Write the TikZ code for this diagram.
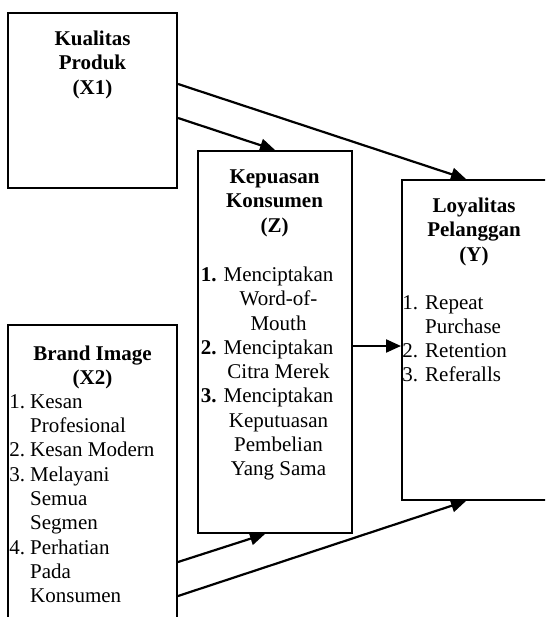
\documentclass[tikz,border=0pt]{standalone}
\usepackage{fontspec}
\setmainfont{Liberation Serif}
\usetikzlibrary{arrows.meta}
\tikzset{
  box/.style={draw=black, line width=2pt, rectangle, inner sep=0pt},
  conn/.style={line width=2.2pt, -{Triangle[length=15pt,width=13pt]}},
  txt/.style={inner sep=0pt, font=\fontsize{21}{24.3}\selectfont},
}
\begin{document}
\begin{tikzpicture}[x=1pt,y=-1pt]
\useasboundingbox (0,0) rectangle (545,617);
\clip (0,0) rectangle (545,617);
% boxes
\node[box, minimum width=169pt, minimum height=175pt] (X1) at (92.5,100.5) {};
\node[box, minimum width=154pt, minimum height=382pt] (Z) at (275,342) {};
\node[box, minimum width=150pt, minimum height=320pt] (Y) at (477,340) {};
\node[box, minimum width=169pt, minimum height=315pt] (X2) at (92.5,482.5) {};
% texts
\node[txt, anchor=north, align=center] (t1) at (92.5,30.7) {\textbf{Kualitas}\\\textbf{Produk}\\\textbf{(X1)}};
\node[txt, anchor=north, align=center] (tz) at (274.5,169.7) {\textbf{Kepuasan}\\\textbf{Konsumen}\\\textbf{(Z)}};
\node[txt, anchor=north, align=center] (lz) at (278.5,266.7) {\llap{\textbf{1.} }Menciptakan\\Word-of-\\Mouth\\\llap{\textbf{2.} }Menciptakan\\Citra Merek\\\llap{\textbf{3.} }Menciptakan\\Keputuasan\\Pembelian\\Yang Sama};
\node[txt, anchor=north, align=center] (ty) at (474,197.7) {\textbf{Loyalitas}\\\textbf{Pelanggan}\\\textbf{(Y)}};
\node[txt, anchor=north west, align=left] (ly) at (425,295) {\llap{1. }Repeat\\Purchase\\\llap{2. }Retention\\\llap{3. }Referalls};
\node[txt, anchor=north, align=center] (t2) at (92.5,345.7) {\textbf{Brand Image}\\\textbf{(X2)}};
\node[txt, anchor=north west, align=left] (l2) at (30,394.3) {\llap{1.\hspace{5pt}}Kesan\\Profesional\\\llap{2.\hspace{5pt}}Kesan Modern\\\llap{3.\hspace{5pt}}Melayani\\Semua\\Segmen\\\llap{4.\hspace{5pt}}Perhatian\\Pada\\Konsumen};
% connectors
\draw[conn] ([yshift=-72pt]X1.north east) -- ([xshift=65pt]Y.north west);
\draw[conn] ([yshift=-106pt]X1.north east) -- (Z.north);
\draw[conn] ([yshift=-196pt]Z.north east) -- ([yshift=-167pt]Y.north west);
\draw[conn] ([yshift=-238pt]X2.north east) -- ([xshift=-10pt]Z.south);
\draw[conn] ([yshift=-272pt]X2.north east) -- ([xshift=65pt]Y.south west);
\end{tikzpicture}
\end{document}
